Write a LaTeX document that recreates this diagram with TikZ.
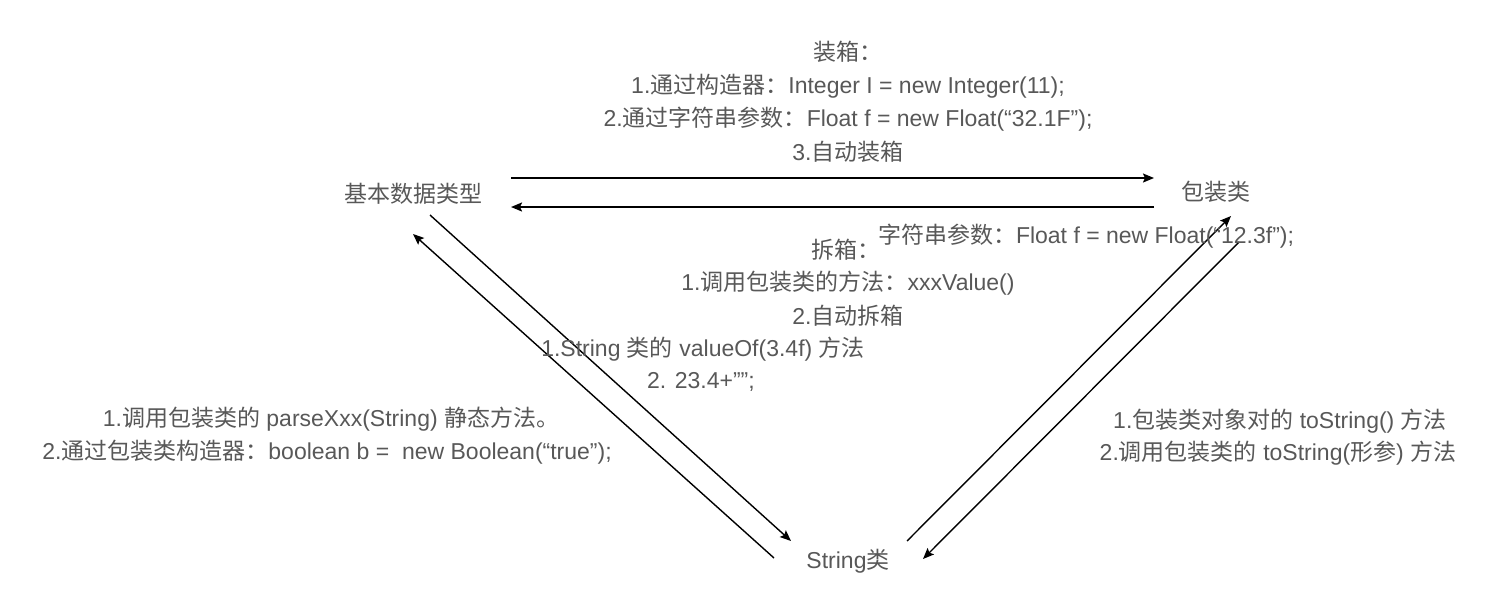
\documentclass[tikz,border=0pt]{standalone}
\usepackage{fontspec}
\setmainfont{Liberation Sans}
\newfontfamily\cjk{Noto Sans CJK SC}
\usetikzlibrary{arrows.meta}
\newcommand\zh[1]{{\cjk #1}}
\definecolor{txt}{RGB}{88,88,88}
\tikzset{
  lbl/.style={text=txt, font=\fontsize{23}{33}\selectfont, align=center, inner sep=0pt},
  harrow/.style={line width=1.7pt, -{Stealth[length=11pt,width=9pt,inset=2pt]}},
  darrow/.style={line width=1.4pt, -{Stealth[length=11pt,width=9pt,inset=2pt]}}
}
\begin{document}
\begin{tikzpicture}[x=1pt,y=-1pt]
\useasboundingbox (0,0) rectangle (1498,614);
% main nodes
\node[lbl] (base) at (413,194) {\zh{基本数据类型}};
\node[lbl] (wrap) at (1216,192) {\zh{包装类}};
\node[lbl] (str) at (848,561) {String\zh{类}};
% endpoints
\coordinate (a1s) at (511,178); \coordinate (a1e) at (1154,178);
\coordinate (a2s) at (1154,207); \coordinate (a2e) at (511,207);
\coordinate (a3s) at (430,215); \coordinate (a3e) at (791,541);
\coordinate (a4s) at (774,558); \coordinate (a4e) at (413,234);
\coordinate (a5s) at (907,541); \coordinate (a5e) at (1231,216);
\coordinate (a6s) at (1239,242); \coordinate (a6e) at (923,559);
\draw[harrow] (a1s) -- (a1e);
\draw[harrow] (a2s) -- (a2e);
\draw[darrow] (a3s) -- (a3e);
\draw[darrow] (a4s) -- (a4e);
\draw[darrow] (a5s) -- (a5e);
\draw[darrow] (a6s) -- (a6e);
% labels
\node[lbl] (t1) at (848,52) {\zh{装箱：}};
\node[lbl] (t2) at (848,86) {1.\zh{通过构造器：}Integer I = new Integer(11);};
\node[lbl] (t3) at (848,119) {2.\zh{通过字符串参数：}Float f = new Float(“32.1F”);};
\node[lbl] (t4) at (848,152) {3.\zh{自动装箱}};
\node[lbl] (u0) at (1086,236) {\zh{字符串参数：}Float f = new Float(“12.3f”);};
\node[lbl] (u1) at (846,250) {\zh{拆箱：}};
\node[lbl] (u2) at (848,283) {1.\zh{调用包装类的方法：}xxxValue()};
\node[lbl] (u3) at (848,316) {2.\zh{自动拆箱}};
\node[lbl] (s1) at (703,349) {1.String \zh{类的} valueOf(3.4f) \zh{方法}};
\node[lbl] (s2) at (701,382) {2. 23.4+””;};
\node[lbl] (l1) at (331,419) {1.\zh{调用包装类的} parseXxx(String) \zh{静态方法。}};
\node[lbl] (l2) at (327,452) {2.\zh{通过包装类构造器：}boolean b = \ new Boolean(“true”);};
\node[lbl] (r1) at (1280,421) {1.\zh{包装类对象对的} toString() \zh{方法}};
\node[lbl] (r2) at (1278,453) {2.\zh{调用包装类的} toString(\zh{形参}) \zh{方法}};
\end{tikzpicture}
\end{document}
